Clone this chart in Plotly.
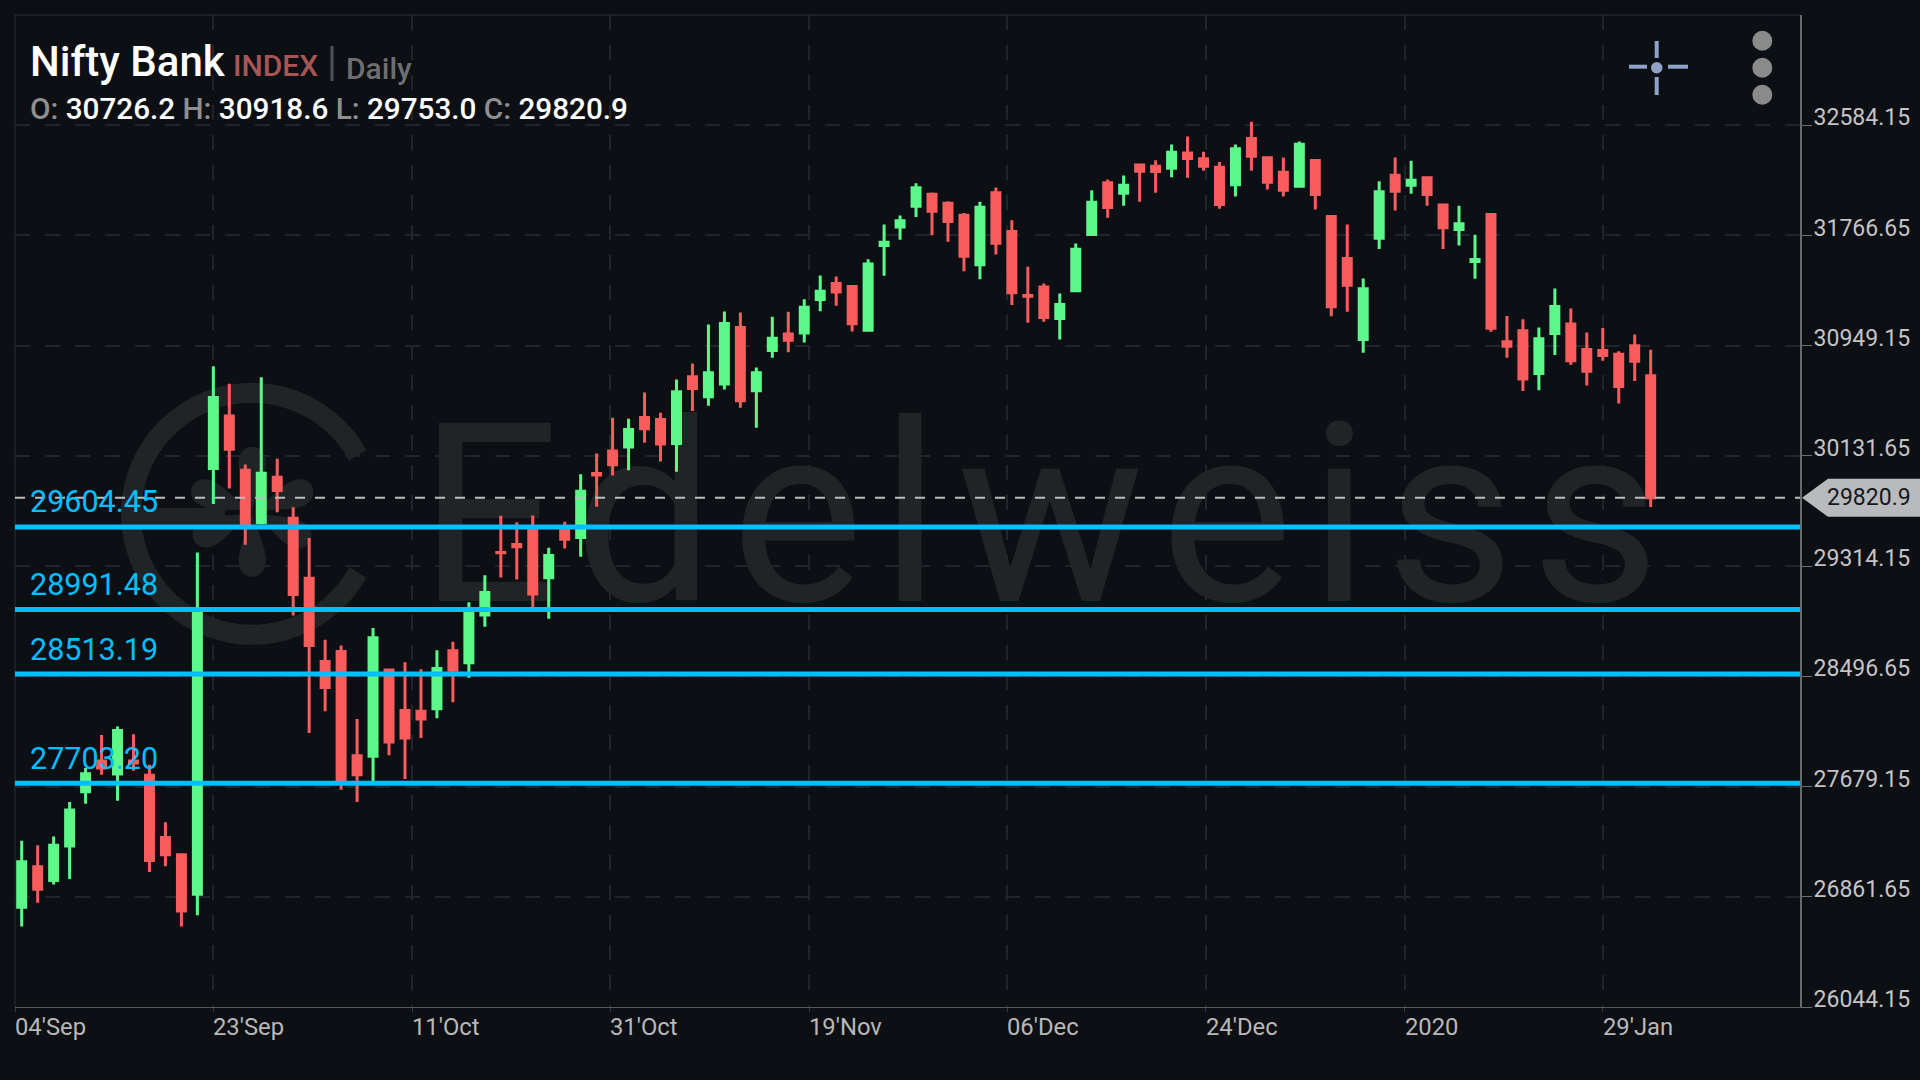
import numpy as np
import plotly.graph_objects as go

open_ = [26784, 27085, 26983, 27238, 27641, 27868, 27772, 27868, 27763, 27301, 27173, 26881, 30039, 30428, 30025,
         29636, 29974, 29670, 29225, 28606, 28680, 27908, 27903, 28544, 28243, 28237, 28257, 28686, 28598, 28951,
         29415, 29475, 29581, 29228, 29586, 29527, 30001, 30167, 30197, 30417, 30402, 30224, 30718, 30570, 30664,
         31084, 30614, 30913, 31035, 31044, 31292, 31410, 31388, 31064, 31692, 31830, 31984, 32073, 32006, 31917,
         31549, 32083, 31796, 31321, 31385, 31151, 31356, 31774, 32157, 32080, 32290, 32280, 32265, 32379, 32335,
         32273, 32142, 32485, 32342, 32236, 32132, 32322, 31907, 31596, 30995, 31746, 32213, 32139, 32194, 31993,
         31811, 31573, 31922, 30978, 31059, 30743, 31039, 31109, 30921, 30913, 30886, 30948, 30726.2]
high = [27278, 27244, 27309, 27565, 27817, 28061, 28124, 28067, 27840, 27414, 27179, 29415, 30797, 30666, 30068,
        30715, 30110, 29750, 29523, 28768, 28725, 28181, 28856, 28550, 28601, 28550, 28691, 28754, 29046, 29247,
        29687, 29640, 29690, 29450, 29643, 29996, 30150, 30414, 30407, 30602, 30451, 30698, 30817, 31106, 31203,
        31195, 30787, 31163, 31200, 31294, 31470, 31462, 31393, 31591, 31848, 31914, 32154, 32085, 32021, 31934,
        32016, 32122, 31880, 31534, 31410, 31336, 31707, 32102, 32181, 32211, 32293, 32325, 32441, 32500, 32387,
        32312, 32441, 32609, 32345, 32345, 32463, 32327, 31912, 31848, 31447, 32169, 32344, 32320, 32196, 31996,
        31986, 31771, 31924, 31170, 31146, 31084, 31373, 31225, 31047, 31081, 30908, 31032, 30918.6]
low = [26642, 26818, 26952, 26994, 27551, 27766, 27573, 27797, 27045, 27088, 26642, 26725, 29775, 29889, 29472,
       29622, 29713, 28947, 28076, 28237, 27656, 27565, 27704, 27911, 27735, 28039, 28186, 28305, 28487, 28864,
       29230, 29215, 29008, 28924, 29445, 29383, 29754, 29987, 30026, 30229, 30090, 30014, 30464, 30503, 30624,
       30488, 30340, 30859, 30901, 30973, 31205, 31245, 31054, 31052, 31467, 31734, 31904, 31769, 31719, 31502,
       31442, 31625, 31250, 31119, 31126, 30995, 31348, 31769, 31897, 31986, 32016, 32083, 32199, 32194, 32246,
       31964, 32055, 32246, 32107, 32055, 32120, 31959, 31168, 31200, 30896, 31667, 31951, 32075, 31986, 31667,
       31692, 31445, 31052, 30859, 30612, 30619, 30879, 30807, 30654, 30837, 30520, 30688, 29753.0]
close = [27122, 26918, 27244, 27505, 27775, 27817, 28095, 27854, 27131, 27173, 26756, 28981, 30564, 30181, 29600,
         30002, 29875, 29103, 28725, 28413, 27732, 27766, 28782, 28010, 28039, 28181, 28555, 28541, 28981, 29119,
         29413, 29458, 29107, 29393, 29514, 29870, 29989, 30066, 30328, 30333, 30219, 30607, 30632, 30748, 31114,
         30540, 30748, 31005, 30990, 31235, 31353, 31348, 31111, 31554, 31717, 31875, 32120, 31947, 31870, 31613,
         31976, 31709, 31341, 31316, 31158, 31254, 31665, 32013, 31974, 32139, 32243, 32241, 32384, 32337, 32280,
         31996, 32409, 32354, 32162, 32102, 32443, 32070, 31237, 31398, 31371, 32090, 32095, 32176, 32070, 31823,
         31853, 31588, 31079, 30945, 30701, 31000, 31240, 30837, 30760, 30876, 30646, 30834, 29820.9]

levels = [29604.45, 28991.48, 28513.19, 27703.20]
price_ticks = [32584.15, 31766.65, 30949.15, 30131.65, 29314.15, 28496.65, 27679.15, 26861.65, 26044.15]
date_labels = ["04'Sep", "23'Sep", "11'Oct", "31'Oct", "19'Nov", "06'Dec", "24'Dec", "2020", "29'Jan"]
date_pos = [-0.42, 12.0, 24.44, 36.84, 49.3, 61.7, 74.15, 86.6, 99.0]

BG = "#0c0f14"
GREEN = "#5cf98a"
RED = "#f85c5c"
CYAN = "#00bfff"
FONT = "Roboto"

# plot box in page pixels
L, R, T, B = 15, 1800, 15, 1007


def px(x):
    return (x - L) / (R - L)


def py(y):
    return (B - y) / (B - T)


fig = go.Figure(
    go.Candlestick(
        x=list(range(len(open_))), open=open_, high=high, low=low, close=close,
        increasing=dict(line=dict(color=GREEN, width=3), fillcolor=GREEN),
        decreasing=dict(line=dict(color=RED, width=3), fillcolor=RED),
        whiskerwidth=0,
    )
)

shapes = []
annotations = []

# watermark sits under the candles
WM = "#212427"
shapes.append(dict(type="rect", xref="paper", yref="paper", x0=px(422), x1=px(1672), y0=py(637), y1=py(357),
                   line=dict(width=0), fillcolor="rgba(0,0,0,0)", layer="below",
                   label=dict(text="Edelweiss", textposition="middle center",
                              font=dict(family=FONT, size=250, color=WM, weight=400))))
t = np.radians(np.linspace(29, 331, 60))
ring = "M " + " L ".join(f"{px(252 + 121 * np.cos(a)):.5f},{py(513.8 - 121 * np.sin(a)):.5f}" for a in t)
shapes.append(dict(type="path", xref="paper", yref="paper", path=ring, layer="below", line=dict(color=WM, width=20)))
shapes.append(dict(type="line", xref="paper", yref="paper", x0=px(131), x1=px(225), y0=py(517.5), y1=py(517.5),
                   layer="below", line=dict(color=WM, width=19)))
s = np.radians(np.linspace(0, 180, 30))
for a in [90, 22, -27, 158, 206, 270]:
    r = np.radians(a)
    u = 65 * (1 - np.cos(s)) / 2
    w = 21 * np.sin(s) * (1 - np.cos(s)) / 2
    pts = list(zip(u, w)) + list(zip(u[::-1], -w[::-1]))
    petal = "M " + " L ".join(
        f"{px(252.3 + p * np.cos(r) - q * np.sin(r)):.5f},{py(511.7 - p * np.sin(r) - q * np.cos(r)):.5f}" for p, q in pts) + " Z"
    shapes.append(dict(type="path", xref="paper", yref="paper", path=petal, layer="below", fillcolor=WM, line=dict(width=0)))

# frame
for x0, y0, x1, y1 in [(0, 1, 1, 1), (0, 0, 0, 1)]:
    shapes.append(dict(type="line", xref="paper", yref="paper", x0=x0, y0=y0, x1=x1, y1=y1,
                       line=dict(color="#2b2e33", width=1)))

# support levels
for v in levels:
    shapes.append(dict(type="line", xref="paper", yref="y", x0=0, x1=1, y0=v, y1=v,
                       line=dict(color=CYAN, width=5)))
    annotations.append(dict(xref="paper", yref="y", x=px(28), y=v, yshift=25, text=f"{v:.2f}", showarrow=False,
                            xanchor="left", yanchor="middle", font=dict(family=FONT, size=30.5, color=CYAN)))

# last price line and tag
shapes.append(dict(type="line", xref="paper", yref="y", x0=0, x1=1, y0=close[-1], y1=close[-1],
                   line=dict(color="#bdbdbd", width=2, dash="10px,10px")))
shapes.append(dict(type="path", xref="paper", yref="y", xsizemode="pixel", ysizemode="pixel", xanchor=1, yanchor=close[-1],
                   path="M 2,0 L 28,-19 L 120,-19 L 120,19 L 28,19 Z", fillcolor="#b9babd", line=dict(width=0)))
annotations.append(dict(xref="paper", yref="y", x=px(1869), y=close[-1], text=f"{close[-1]}", showarrow=False,
                        xanchor="center", yanchor="middle", font=dict(family=FONT, size=23, color="#15181c")))

# date labels start at their tick, not centred on it
for lab, pos in zip(date_labels, date_pos):
    annotations.append(dict(xref="x", yref="paper", x=pos, y=py(1027), xshift=-2, text=lab, showarrow=False, xanchor="left",
                            yanchor="middle", font=dict(family=FONT, size=23.8, color="#b8b8b8")))

# header
annotations.append(dict(xref="paper", yref="paper", x=px(28), y=py(61), text="Nifty Bank", showarrow=False,
                        xanchor="left", yanchor="middle", font=dict(family=FONT, size=42, color="#ffffff", weight=500)))
annotations.append(dict(xref="paper", yref="paper", x=px(231), y=py(65), text="INDEX", showarrow=False,
                        xanchor="left", yanchor="middle", font=dict(family=FONT, size=30, color="#a85555", weight=500)))
annotations.append(dict(xref="paper", yref="paper", x=px(344), y=py(68), text="Daily", showarrow=False,
                        xanchor="left", yanchor="middle", font=dict(family=FONT, size=30, color="#6e6e70", weight=500)))
shapes.append(dict(type="line", xref="paper", yref="paper", x0=px(332), x1=px(332), y0=py(46), y1=py(81),
                   line=dict(color="#4d525c", width=3)))
grey = '<span style="color:#8f8f8f">%s</span>'
ohlc_text = " ".join(f"{grey % (k + ':')} {v:.1f}" for k, v in zip("OHLC", [open_[-1], high[-1], low[-1], close[-1]]))
annotations.append(dict(xref="paper", yref="paper", x=px(28), y=py(108), text=ohlc_text, showarrow=False,
                        xanchor="left", yanchor="middle", font=dict(family=FONT, size=29.7, color="#ffffff", weight=500)))

# crosshair icon and menu dots
ICON = "#8fa3c8"
for x0, y0, x1, y1 in [(1629, 66.7, 1647, 66.7), (1668, 66.7, 1688, 66.7), (1656.7, 41, 1656.7, 58), (1656.7, 77, 1656.7, 95)]:
    shapes.append(dict(type="line", xref="paper", yref="paper", x0=px(x0), x1=px(x1), y0=py(y0), y1=py(y1),
                       line=dict(color=ICON, width=4)))
shapes.append(dict(type="circle", xref="paper", yref="paper", x0=px(1651), x1=px(1662.5), y0=py(73.5), y1=py(62),
                   fillcolor=ICON, line=dict(width=0)))
for cy in [40.7, 67.7, 94.7]:
    shapes.append(dict(type="circle", xref="paper", yref="paper", x0=px(1752.3), x1=px(1772.3), y0=py(cy + 10), y1=py(cy - 10),
                       fillcolor="#8a8a8a", line=dict(width=0)))

fig.update_layout(
    width=1920, height=1080,
    margin=dict(l=L, r=1920 - R, t=T, b=1080 - B, autoexpand=False),
    paper_bgcolor=BG, plot_bgcolor=BG,
    showlegend=False, boxgap=0.5, boxgroupgap=0,
    shapes=shapes, annotations=annotations,
    xaxis=dict(range=[-0.42, 111.35], rangeslider=dict(visible=False), tickvals=date_pos, showticklabels=False,
               showgrid=True, gridcolor="#212429", gridwidth=2, griddash="15px,15px", zeroline=False,
               showline=True, linecolor="#5a5a5a", linewidth=1, ticks="outside", ticklen=4, tickcolor="#33363a"),
    yaxis=dict(range=[26044.15, 33401.65], side="right", tickvals=price_ticks, ticktext=[f"{v:.2f}" for v in price_ticks],
               showgrid=True, gridcolor="#212429", gridwidth=2, griddash="15px,15px", zeroline=False,
               showline=True, linecolor="#6a6a6a", linewidth=2, ticks="outside", ticklen=10, tickcolor="#6e6e6e",
               tickwidth=1, ticklabelshift=-8, ticklabelstandoff=-3, tickfont=dict(family=FONT, size=23, color="#c4c4c4")),
)

# the watermark in the reference is spaced wider than Roboto sets it
post = """
document.body.style.margin = '0';
document.querySelectorAll('.shape-label').forEach(function (el) { el.style.letterSpacing = '16px'; });
"""
fig.write_html("out.html", config=dict(displayModeBar=False), post_script=post)
